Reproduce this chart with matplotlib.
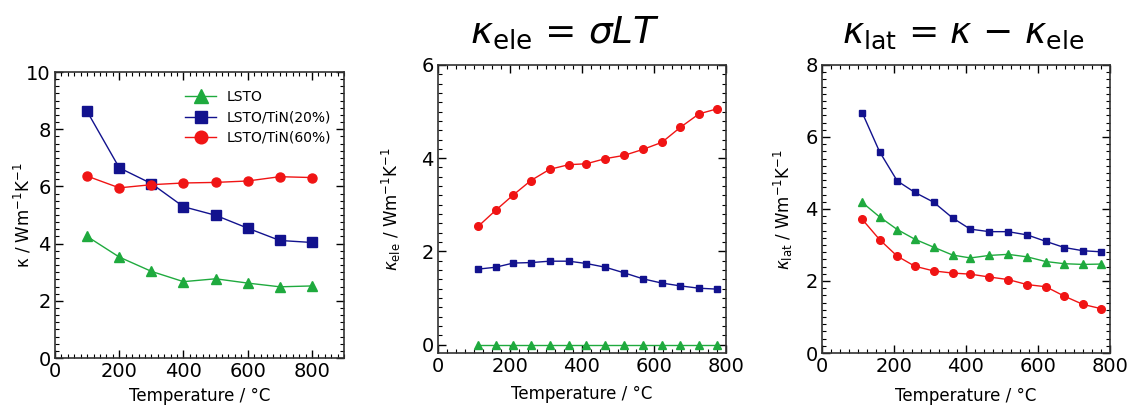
import matplotlib
matplotlib.use("Agg")
from matplotlib import pyplot as plt
from matplotlib.ticker import MultipleLocator

# ============== DONNÉES ==============

temp_total = [100, 200, 300, 400, 500, 600, 700, 800]
kappa_lsto = [4.25, 3.53, 3.03, 2.67, 2.77, 2.62, 2.49, 2.52]
kappa_tin20 = [8.62, 6.65, 6.1, 5.29, 4.99, 4.54, 4.11, 4.04]
kappa_tin60 = [6.36, 5.95, 6.06, 6.12, 6.14, 6.19, 6.34, 6.31]

temp_fine = [112, 160, 209, 258, 310, 363, 412, 465, 517, 570, 622, 673, 725, 776]
ele_lsto = [0, 0, 0, 0, 0, 0, 0, 0, 0, 0, 0, 0, 0, 0]
ele_tin20 = [1.62, 1.66, 1.75, 1.76, 1.79, 1.79, 1.74, 1.66, 1.54, 1.41, 1.32, 1.26, 1.21, 1.19]
ele_tin60 = [2.54, 2.88, 3.21, 3.52, 3.76, 3.86, 3.88, 3.99, 4.06, 4.19, 4.34, 4.66, 4.95, 5.06]

lat_lsto = [4.18, 3.78, 3.43, 3.16, 2.94, 2.72, 2.64, 2.71, 2.74, 2.67, 2.54, 2.48, 2.46, 2.47]
lat_tin20 = [6.67, 5.59, 4.78, 4.46, 4.19, 3.75, 3.44, 3.37, 3.37, 3.28, 3.10, 2.93, 2.84, 2.81]
lat_tin60 = [3.71, 3.15, 2.69, 2.41, 2.28, 2.22, 2.19, 2.11, 2.04, 1.90, 1.84, 1.58, 1.35, 1.23]

labels = ['LSTO', 'LSTO/TiN(20%)', 'LSTO/TiN(60%)']
GREEN = '#1faa3e'
BLUE = '#12128e'
RED = '#f01414'

plt.rcParams['font.family'] = 'DejaVu Sans'
plt.rcParams['mathtext.fontset'] = 'dejavusans'

fig = plt.figure(figsize=(11.28, 4.08), dpi=100)
ax1 = fig.add_axes([0.0488, 0.1225, 0.2562, 0.701])
ax2 = fig.add_axes([0.3883, 0.1348, 0.2553, 0.706])
ax3 = fig.add_axes([0.7287, 0.1348, 0.2553, 0.706])


def style_axis(ax, xmin, xmax, ymin, ymax, xminor, yminor, xpad):
    ax.set_xlim(xmin, xmax)
    ax.set_ylim(ymin, ymax)
    ax.xaxis.set_major_locator(MultipleLocator(200))
    ax.xaxis.set_minor_locator(MultipleLocator(xminor))
    ax.yaxis.set_major_locator(MultipleLocator(2))
    ax.yaxis.set_minor_locator(MultipleLocator(yminor))
    ax.tick_params(which='both', direction='in', top=True, right=True, labelsize=14)
    ax.tick_params(which='major', length=6, width=1, pad=3)
    ax.tick_params(which='minor', length=3, width=0.8)
    for s in ax.spines.values():
        s.set_linewidth(1.2)
        s.set_color('#333333')
    ax.set_xlabel('Temperature / °C', fontsize=12, labelpad=xpad)


# --- Panel 1 : kappa total ---
ax1.plot(temp_total, kappa_lsto, '-^', color=GREEN, ms=7, lw=1, label=labels[0])
ax1.plot(temp_total, kappa_tin20, '-s', color=BLUE, ms=6.5, lw=1, label=labels[1])
ax1.plot(temp_total, kappa_tin60, '-o', color=RED, ms=6.5, lw=1, label=labels[2])
style_axis(ax1, 0, 900, 0, 10, 20, 0.25, 4)
ax1.set_ylabel('κ / Wm$^{-1}$K$^{-1}$', fontsize=12)
ax1.yaxis.set_label_coords(-0.075, 0.5)
ax1.legend(loc='upper right', bbox_to_anchor=(1.0, 0.98), frameon=False, fontsize=10,
           markerscale=1.4, handlelength=2.2, labelspacing=0.45)

# --- Panel 2 : kappa electronique ---
ax2.plot(temp_fine, ele_lsto, '-^', color=GREEN, ms=5.5, lw=1)
ax2.plot(temp_fine, ele_tin20, '-s', color=BLUE, ms=5, lw=1)
ax2.plot(temp_fine, ele_tin60, '-o', color=RED, ms=5.5, lw=1)
style_axis(ax2, 0, 800, -0.18, 6, 25, 0.2, 6)
ax2.set_ylabel(r'$\kappa_{\rm ele}$ / Wm$^{-1}$K$^{-1}$', fontsize=12)
ax2.yaxis.set_label_coords(-0.12, 0.5)
ax2.set_title(r'$\kappa_{\rm ele}$ = $\sigma LT$', fontsize=27, pad=16, x=0.44)

# --- Panel 3 : kappa de reseau ---
ax3.plot(temp_fine, lat_lsto, '-^', color=GREEN, ms=5.5, lw=1)
ax3.plot(temp_fine, lat_tin20, '-s', color=BLUE, ms=5, lw=1)
ax3.plot(temp_fine, lat_tin60, '-o', color=RED, ms=5.5, lw=1)
style_axis(ax3, 0, 800, 0, 8, 25, 0.2, 8)
ax3.set_ylabel(r'$\kappa_{\rm lat}$ / Wm$^{-1}$K$^{-1}$', fontsize=12)
ax3.yaxis.set_label_coords(-0.095, 0.5)
ax3.set_title(r'$\kappa_{\rm lat}$ = $\kappa$ $-$ $\kappa_{\rm ele}$', fontsize=26, pad=16, x=0.49)

fig.savefig('out.png', dpi=100)
